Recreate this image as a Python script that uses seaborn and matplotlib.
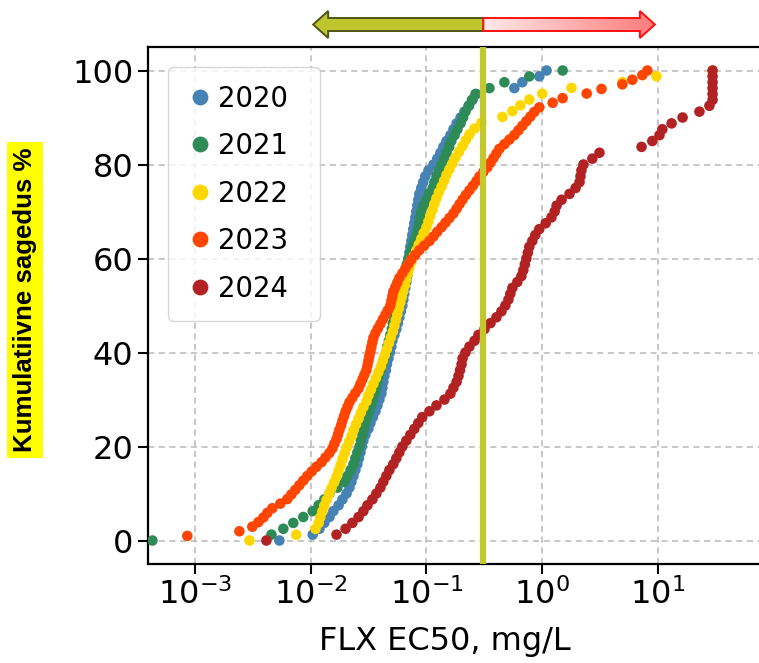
import numpy as np
import pandas as pd
import matplotlib
matplotlib.use("Agg")
import matplotlib.pyplot as plt
from matplotlib.patches import Polygon
from matplotlib.colors import LinearSegmentedColormap
from matplotlib.ticker import LogLocator, NullLocator
import seaborn as sns

# ---- data: FLX EC50 values (mg/L) per sampling year ----
years = ["2020", "2021", "2022", "2023", "2024"]
colors = ["#4682b4", "#2e8b57", "#ffd700", "#ff4500", "#b22222"]

ec50_2020 = [
    0.00536, 0.0104, 0.0119, 0.0131, 0.0145, 0.0157, 0.0174, 0.0188, 0.0204, 0.0216,
    0.0225, 0.0234, 0.0243, 0.0253, 0.0261, 0.0269, 0.0277, 0.0285, 0.0297, 0.0315,
    0.0328, 0.0344, 0.0362, 0.0377, 0.0392, 0.0408, 0.0416, 0.0424, 0.0433, 0.0446,
    0.0455, 0.0469, 0.0483, 0.0497, 0.0507, 0.0528, 0.0549, 0.0566, 0.0583, 0.0600,
    0.0619, 0.0631, 0.0643, 0.0656, 0.0670, 0.0683, 0.0690, 0.0697, 0.0704, 0.0711,
    0.0725, 0.0740, 0.0754, 0.0769, 0.0785, 0.0801, 0.0817, 0.0833, 0.0850, 0.0867,
    0.0902, 0.0938, 0.0976, 0.104, 0.115, 0.124, 0.132, 0.140, 0.149, 0.161,
    0.171, 0.182, 0.197, 0.213, 0.231, 0.250, 0.270, 0.574, 0.673, 0.943, 1.09,
]
ec50_2021 = [
    0.000429, 0.00458, 0.00580, 0.00707, 0.00862, 0.0104, 0.0117, 0.0131, 0.0145, 0.0170,
    0.0196, 0.0208, 0.0221, 0.0234, 0.0243, 0.0253, 0.0264, 0.0271, 0.0280, 0.0288,
    0.0297, 0.0309, 0.0321, 0.0334, 0.0344, 0.0355, 0.0366, 0.0377, 0.0388, 0.0400,
    0.0416, 0.0433, 0.0450, 0.0459, 0.0473, 0.0487, 0.0502, 0.0512, 0.0528, 0.0538,
    0.0549, 0.0566, 0.0583, 0.0600, 0.0619, 0.0637, 0.0656, 0.0676, 0.0697, 0.0725,
    0.0754, 0.0785, 0.0817, 0.0841, 0.0867, 0.0884, 0.0902, 0.0947, 0.100, 0.105,
    0.113, 0.117, 0.122, 0.128, 0.135, 0.142, 0.149, 0.157, 0.164, 0.175,
    0.185, 0.197, 0.207, 0.217, 0.233, 0.247, 0.265, 0.350, 0.471, 0.773, 1.50,
]
ec50_2022 = [
    0.00296, 0.00751, 0.0110, 0.0117, 0.0121, 0.0126, 0.0131, 0.0137, 0.0144, 0.0151,
    0.0159, 0.0167, 0.0174, 0.0181, 0.0188, 0.0196, 0.0204, 0.0214, 0.0225, 0.0234,
    0.0246, 0.0259, 0.0271, 0.0285, 0.0303, 0.0315, 0.0331, 0.0348, 0.0366, 0.0384,
    0.0404, 0.0420, 0.0437, 0.0455, 0.0473, 0.0492, 0.0512, 0.0528, 0.0544, 0.0560,
    0.0577, 0.0594, 0.0612, 0.0631, 0.0650, 0.0670, 0.0690, 0.0711, 0.0740, 0.0777,
    0.0817, 0.0858, 0.0902, 0.0947, 0.100, 0.104, 0.108, 0.113, 0.117, 0.122,
    0.128, 0.135, 0.142, 0.149, 0.158, 0.168, 0.178, 0.191, 0.205, 0.219,
    0.235, 0.260, 0.298, 0.453, 0.552, 0.647, 0.773, 1.00, 1.79, 4.92,
    9.69, 29.6,
]
ec50_2023 = [
    0.000300, 0.000858, 0.00242, 0.00313, 0.00353, 0.00390, 0.00422, 0.00466, 0.00546, 0.00628,
    0.00680, 0.00736, 0.00797, 0.00862, 0.00934, 0.0102, 0.0112, 0.0124, 0.0134, 0.0145,
    0.0154, 0.0160, 0.0167, 0.0172, 0.0177, 0.0183, 0.0188, 0.0194, 0.0200, 0.0208,
    0.0216, 0.0229, 0.0243, 0.0259, 0.0269, 0.0280, 0.0291, 0.0303, 0.0309, 0.0315,
    0.0321, 0.0328, 0.0334, 0.0341, 0.0348, 0.0362, 0.0380, 0.0400, 0.0420, 0.0442,
    0.0464, 0.0487, 0.0497, 0.0507, 0.0517, 0.0538, 0.0560, 0.0583, 0.0619, 0.0656,
    0.0697, 0.0740, 0.0801, 0.0867, 0.0956, 0.106, 0.115, 0.124, 0.135, 0.146,
    0.158, 0.171, 0.182, 0.193, 0.205, 0.219, 0.235, 0.252, 0.270, 0.287,
    0.310, 0.336, 0.357, 0.379, 0.402, 0.426, 0.471, 0.520, 0.574, 0.622,
    0.673, 0.729, 0.789, 0.854, 0.943, 1.23, 1.50, 2.42, 3.25, 4.92,
    6.00, 7.32, 8.09,
]
ec50_2024 = [
    0.00414, 0.0167, 0.0200, 0.0229, 0.0259, 0.0285, 0.0309, 0.0341, 0.0369, 0.0400,
    0.0424, 0.0450, 0.0478, 0.0517, 0.0549, 0.0583, 0.0619, 0.0670, 0.0725, 0.0785,
    0.0850, 0.0920, 0.106, 0.122, 0.143, 0.161, 0.171, 0.182, 0.189, 0.195,
    0.201, 0.205, 0.217, 0.235, 0.260, 0.281, 0.317, 0.357, 0.402, 0.444,
    0.480, 0.510, 0.530, 0.552, 0.609, 0.660, 0.686, 0.707, 0.729, 0.751,
    0.773, 0.821, 0.871, 0.943, 1.07, 1.20, 1.28, 1.33, 1.47, 1.72,
    1.94, 2.10, 2.14, 2.18, 2.27, 2.71, 3.12, 7.21, 8.93, 10.3,
    10.9, 13.1, 16.3, 22.8, 27.8, 29.6, 29.6, 29.6, 29.6, 29.6, 29.6,
]

threshold = 0.31          # mg/L, vertical reference line
arrow_left_end = 0.0105   # extent of the "more toxic" arrow
arrow_right_end = 9.4     # extent of the "less toxic" arrow

# ---- cumulative frequency table ----
frames = []
for yr, vals in zip(years, [ec50_2020, ec50_2021, ec50_2022, ec50_2023, ec50_2024]):
    v = np.sort(np.asarray(vals, dtype=float))
    n = len(v)
    frames.append(pd.DataFrame({"ec50": v, "cum": 100.0 * np.arange(n) / (n - 1), "year": yr}))
df = pd.concat(frames, ignore_index=True)

# ---- figure ----
sns.set_style("ticks")
plt.rcParams.update({
    "font.family": ["DejaVu Sans"],
    "text.color": "black",
    "axes.labelcolor": "black",
    "xtick.color": "black",
    "ytick.color": "black",
})
W, H = 759, 663
fig = plt.figure(figsize=(W / 100, H / 100), dpi=100)
ax = fig.add_axes([0.195, 0.1493, 0.8137, 0.7798])

sns.scatterplot(data=df, x="ec50", y="cum", hue="year", hue_order=years,
                palette=dict(zip(years, colors)), s=58, linewidth=0,
                ax=ax, zorder=3)

ax.set_xscale("log")
ax.set_xlim(3.93e-4, 85)
ax.set_ylim(-5, 105)
ax.xaxis.set_major_locator(LogLocator(base=10, numticks=12))
ax.xaxis.set_minor_locator(NullLocator())
ax.set_yticks([0, 20, 40, 60, 80, 100])
ax.grid(True, which="major", linestyle=(0, (4, 3)), color="#b8b8b8", linewidth=1.1)
ax.set_axisbelow(True)
ax.tick_params(labelsize=23, length=7, width=1.5, direction="out", colors="black")
for sp in ax.spines.values():
    sp.set_visible(True)
    sp.set_color("black")
    sp.set_linewidth(1.6)

ax.axvline(threshold, color="#c3c82d", lw=4.5, zorder=5)
ax.set_xlabel("FLX EC50, mg/L", fontsize=23, color="black")
ax.xaxis.set_label_coords(0.481, -0.12)
ax.set_ylabel("")

handles, labels = ax.get_legend_handles_labels()
leg = ax.legend(handles, labels, loc="upper left",
                bbox_to_anchor=(0.0324, 0.962 - 0.47, 0.246, 0.47), mode="expand",
                borderaxespad=0, fontsize=19.8, markerscale=1.5, labelspacing=0.71,
                handlelength=1.0, handletextpad=0.16, borderpad=0.65,
                frameon=True, fancybox=True, framealpha=0.8, edgecolor="#cccccc")
for t in leg.get_texts():
    t.set_color("black")

fig.text(25 / W, 1 - 300 / H, "Kumulatiivne sagedus %", rotation=90,
         fontsize=18.6, fontweight="bold", color="black",
         family=["Liberation Sans", "DejaVu Sans"],
         ha="center", va="center",
         bbox=dict(boxstyle="square,pad=0.22", fc="#ffff00", ec="none"))

# ---- direction arrows above the plot, anchored at the threshold ----
def xpix(v):
    return ax.transData.transform((v, 0))[0]

xj, xl, xr = xpix(threshold), xpix(arrow_left_end), xpix(arrow_right_end)
top = ax.get_position().y1 * H
s_lo, s_hi = top + 16, top + 29
h_lo, h_hi = top + 9, top + 36
mid = (s_lo + s_hi) / 2
hl = 15

ov = fig.add_axes([0, 0, 1, 1])
ov.axis("off")

left_arrow = Polygon([(xj, s_lo), (xl + hl, s_lo), (xl + hl, h_lo), (xl, mid),
                      (xl + hl, h_hi), (xl + hl, s_hi), (xj, s_hi)],
                     closed=True, fc="#bfc62d", ec="#4f5414", lw=1.4)
ov.add_patch(left_arrow)

right_pts = [(xj, s_lo), (xr - hl, s_lo), (xr - hl, h_lo), (xr, mid),
             (xr - hl, h_hi), (xr - hl, s_hi), (xj, s_hi)]
clip_poly = Polygon(right_pts, closed=True, fc="none", ec="none")
ov.add_patch(clip_poly)
fade = LinearSegmentedColormap.from_list("fade", ["#ffe9e9", "#ff7b7b"])
grad = ov.imshow(np.linspace(0, 1, 256).reshape(1, -1), extent=(xj, xr, h_lo, h_hi),
                 cmap=fade, aspect="auto", origin="lower", zorder=1)
grad.set_clip_path(clip_poly)
ov.add_patch(Polygon(right_pts, closed=True, fc="none", ec="#ff1010", lw=1.4, zorder=2))

ov.set_xlim(0, W)
ov.set_ylim(0, H)

fig.savefig("out.png", dpi=100)
